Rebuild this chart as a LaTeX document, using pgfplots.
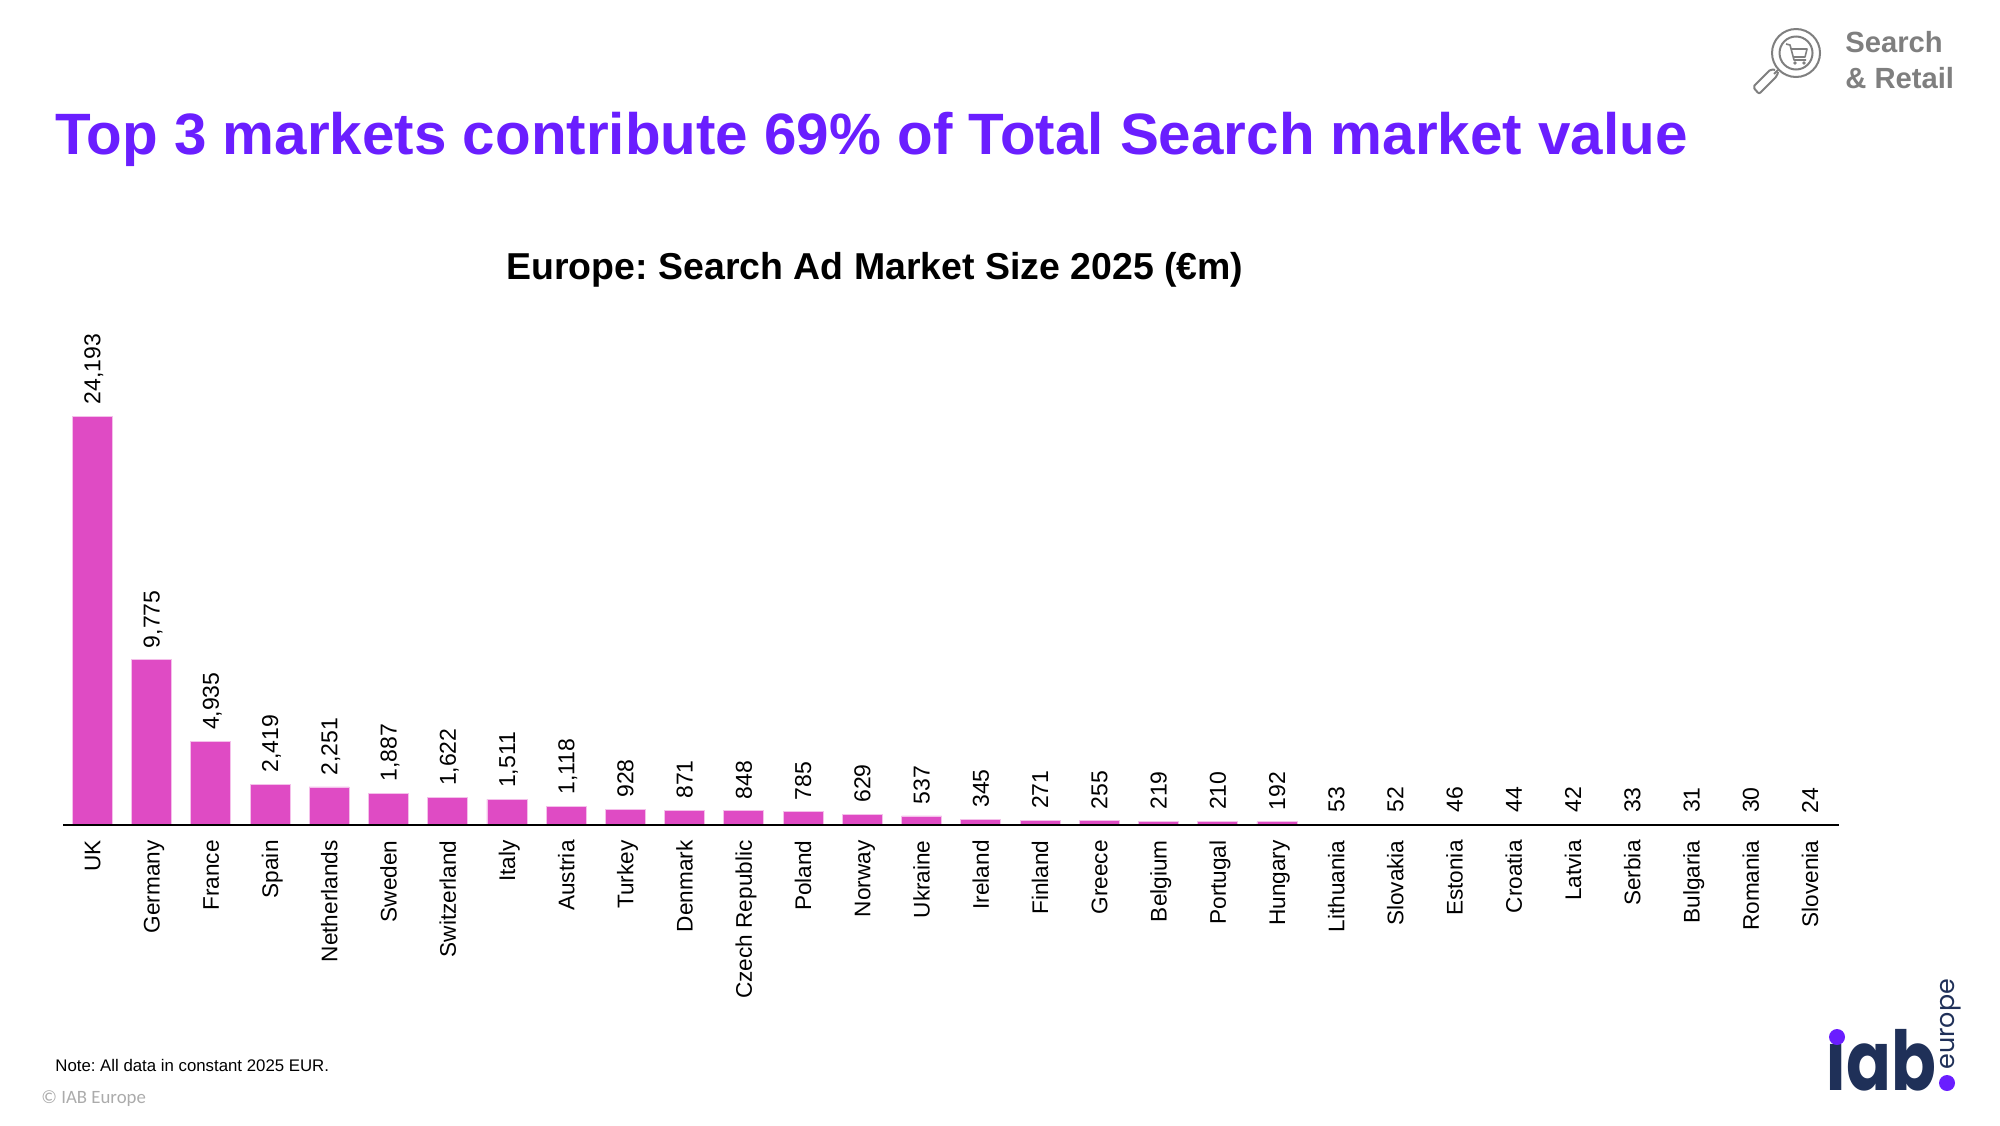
\documentclass[border=0pt]{standalone}
\usepackage{pgfplots}
\pgfplotsset{compat=1.18}
\usepackage{fontspec}
\setmainfont{Liberation Sans}
\newfontfamily\pop{Poppins}
\newfontfamily\carl{Carlito}
\frenchspacing
\definecolor{barpink}{HTML}{DF4BC4}
\definecolor{titlepurple}{HTML}{6A1EFF}
\definecolor{iabnavy}{HTML}{1F3058}
\definecolor{greytxt}{HTML}{7F7F7F}
\definecolor{lightgrey}{HTML}{ABABAB}
\begin{document}
\begin{tikzpicture}
\begin{scope}[x=0.5pt,y=-0.5pt]
\path[use as bounding box] (0,0) rectangle (2000,1125);
\end{scope}
\begin{axis}[
  at={(31.5pt,-412.5pt)},anchor=south west,
  scale only axis,
  width=888pt,height=204.5pt,
  xmin=-0.495,xmax=29.49,
  ymin=0,ymax=24193,
  clip=false,
  axis on top,
  axis y line=none,
  axis x line*=bottom,
  axis line style={black,line width=0.75pt,-},
  xtick=data,
  xticklabels={UK,Germany,France,Spain,Netherlands,Sweden,Switzerland,Italy,Austria,Turkey,Denmark,Czech Republic,Poland,Norway,Ukraine,Ireland,Finland,Greece,Belgium,Portugal,Hungary,Lithuania,Slovakia,Estonia,Croatia,Latvia,Serbia,Bulgaria,Romania,Slovenia},
  x tick label style={rotate=90,anchor=east,font=\fontsize{11.3pt}{13pt}\selectfont,text height=8.1pt,text depth=0pt,inner sep=0pt},
  tick style={draw=none},
  major tick length=0pt,
  xticklabel shift=7.5pt,
  ybar,
  bar width=20pt,
  bar shift=0pt,
  nodes near coords,
  point meta=explicit symbolic,
  nodes near coords style={rotate=90,anchor=west,font=\fontsize{11.5pt}{13pt}\selectfont,text height=8.1pt,text depth=0pt,inner sep=0pt,xshift=5.6pt},
]
\addplot[fill=barpink,draw=barpink!35,line width=0.4pt] table[x=idx,y=val,meta=lab] {
idx val lab
0 24193 {24,193}
1 9775 {9,775}
2 4935 {4,935}
3 2419 {2,419}
4 2251 {2,251}
5 1887 {1,887}
6 1622 {1,622}
7 1511 {1,511}
8 1118 {1,118}
9 928 928
10 871 871
11 848 848
12 785 785
13 629 629
14 537 537
15 345 345
16 271 271
17 255 255
18 219 219
19 210 210
20 192 192
21 53 53
22 52 52
23 46 46
24 44 44
25 42 42
26 33 33
27 31 31
28 30 30
29 24 24
};
\end{axis}
\begin{scope}[x=0.5pt,y=-0.5pt]
% headings
\node[anchor=base west,inner sep=0pt,text=titlepurple,font=\fontsize{29.18pt}{36pt}\selectfont\bfseries] at (55,154) {Top 3 markets contribute 69\% of Total Search market value};
\node[anchor=base,inner sep=0pt,font=\fontsize{18.73pt}{24pt}\selectfont\bfseries] at (875,279.5) {Europe: Search Ad Market Size 2025 (€m)};
\node[anchor=base west,inner sep=0pt,font=\fontsize{8.4pt}{11pt}\selectfont] at (55,1071) {Note: All data in constant 2025 EUR.};
\node[anchor=base west,inner sep=0pt,text=lightgrey,font=\carl\fontsize{9.4pt}{11pt}\selectfont] at (41,1103) {© IAB Europe};
% section tag
\node[anchor=base west,inner sep=0pt,text=greytxt,font=\fontsize{14.6pt}{18pt}\selectfont\bfseries] at (1845,52) {Search};
\node[anchor=base west,inner sep=0pt,text=greytxt,font=\fontsize{14.6pt}{18pt}\selectfont\bfseries] at (1845,88) {\& Retail};
% magnifier icon
\begin{scope}[draw=greytxt,line width=1pt]
\draw (1796,53) circle (24);
\draw (1796,53) circle (16.5);
\draw (1778,70) -- (1774,74);
\draw[line join=round,rounded corners=1pt] (1775,70) -- (1771,69) -- (1753,87) -- (1759,94) -- (1777,76) -- (1778,72);
\draw[line width=0.8pt,line join=round] (1786,44) -- (1790,45) -- (1794,60) -- (1806,60);
\draw[line width=0.8pt,line join=round] (1791,49) -- (1807,49) -- (1805,57) -- (1793,57);
\fill[greytxt] (1795,63) circle (1.8);
\fill[greytxt] (1804,63) circle (1.8);
\end{scope}
% iab logo
\node[anchor=base west,text=iabnavy,font=\pop\fontsize{41.3pt}{50pt}\selectfont\bfseries,inner sep=0pt] at (1825,1090) {\scalebox{0.8}[1]{ıab}};
\fill[titlepurple] (1837,1037) circle (8);
\fill[titlepurple] (1947,1083) circle (8);
\node[anchor=base west,rotate=90,text=iabnavy,font=\pop\fontsize{12.7pt}{20pt}\selectfont,inner sep=0pt] at (1954,1070) {europe};
\end{scope}
\end{tikzpicture}
\end{document}
